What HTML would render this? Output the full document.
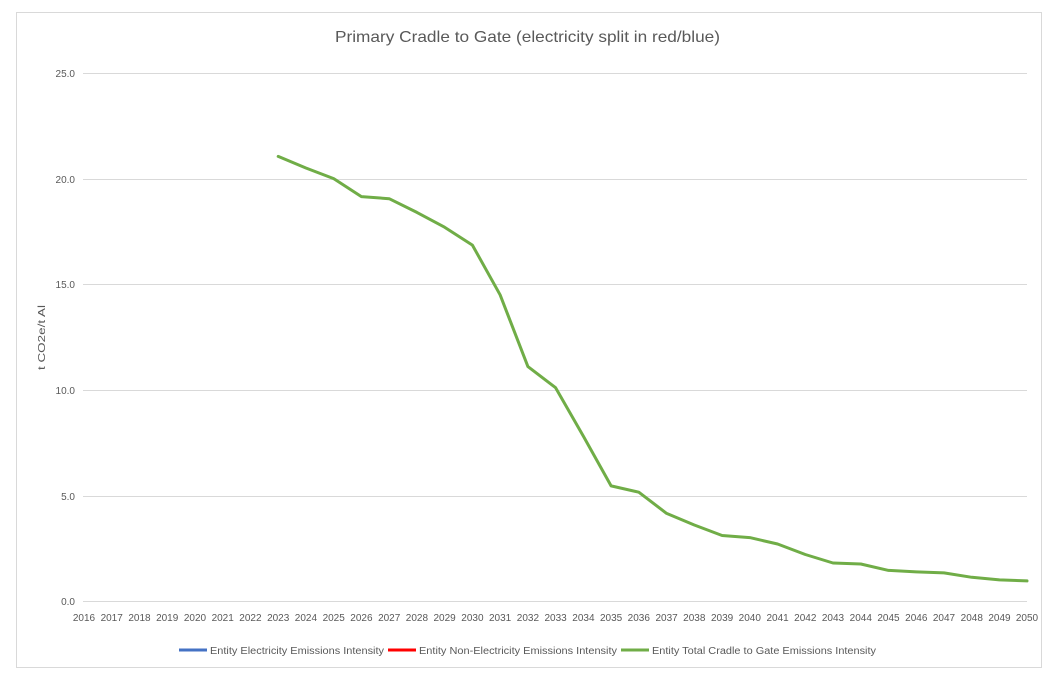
<!DOCTYPE html>
<html><head><meta charset="utf-8"><style>
html,body{margin:0;padding:0;background:#fff;}
svg{display:block;font-family:"Liberation Sans",sans-serif;}
</style></head><body>
<svg width="1057" height="684" viewBox="0 0 1057 684">
<rect x="16.5" y="12.5" width="1025" height="655" fill="#fff" stroke="#d9d9d9"/>
<text x="335" y="42" font-size="16" fill="#595959" textLength="385" lengthAdjust="spacingAndGlyphs">Primary Cradle to Gate (electricity split in red/blue)</text>
<g stroke="#d9d9d9" stroke-width="1">
<line x1="83" x2="1027" y1="73.5" y2="73.5"/>
<line x1="83" x2="1027" y1="179.5" y2="179.5"/>
<line x1="83" x2="1027" y1="284.5" y2="284.5"/>
<line x1="83" x2="1027" y1="390.5" y2="390.5"/>
<line x1="83" x2="1027" y1="496.5" y2="496.5"/>
<line x1="83" x2="1027" y1="601.5" y2="601.5"/>
</g>
<g font-size="10" fill="#595959" text-anchor="end">
<text x="75" y="77">25.0</text><text x="75" y="183">20.0</text><text x="75" y="288">15.0</text>
<text x="75" y="394">10.0</text><text x="75" y="500">5.0</text><text x="75" y="605">0.0</text>
</g>
<text transform="translate(45,370) rotate(-90)" font-size="10" fill="#595959" textLength="65" lengthAdjust="spacingAndGlyphs">t CO2e/t Al</text>
<polyline fill="none" stroke="#70ad47" stroke-width="3" stroke-linejoin="round" stroke-linecap="round" points="278.2,156.4 305.9,168 333.7,178.6 361.4,196.6 389.2,198.7 416.9,212.4 444.6,227.2 472.4,245.1 500.1,294.8 527.9,366.6 555.6,387.7 583.4,436.3 611.1,485.9 638.8,492.2 666.6,513.4 694.3,525 722.1,535.5 749.8,537.6 777.6,544 805.3,554.5 833,563 860.8,564 888.5,570.4 916.3,571.9 944,572.9 971.8,577.3 999.5,579.9 1027,580.9"/>
<g font-size="10" fill="#595959">
<line x1="179" x2="207" y1="650" y2="650" stroke="#4472c4" stroke-width="3"/>
<text x="210" y="654" textLength="174" lengthAdjust="spacingAndGlyphs">Entity Electricity Emissions Intensity</text>
<line x1="388" x2="416" y1="650" y2="650" stroke="#ff0000" stroke-width="3"/>
<text x="419" y="654" textLength="198" lengthAdjust="spacingAndGlyphs">Entity Non-Electricity Emissions Intensity</text>
<line x1="621" x2="649" y1="650" y2="650" stroke="#70ad47" stroke-width="3"/>
<text x="652" y="654" textLength="224" lengthAdjust="spacingAndGlyphs">Entity Total Cradle to Gate Emissions Intensity</text>
</g>
<g font-size="10" fill="#595959" text-anchor="middle">
<text x="84" y="621">2016</text><text x="111.7" y="621">2017</text><text x="139.5" y="621">2018</text><text x="167.2" y="621">2019</text><text x="195" y="621">2020</text><text x="222.7" y="621">2021</text><text x="250.4" y="621">2022</text><text x="278.2" y="621">2023</text><text x="305.9" y="621">2024</text><text x="333.7" y="621">2025</text><text x="361.4" y="621">2026</text><text x="389.2" y="621">2027</text><text x="416.9" y="621">2028</text><text x="444.6" y="621">2029</text><text x="472.4" y="621">2030</text><text x="500.1" y="621">2031</text><text x="527.9" y="621">2032</text><text x="555.6" y="621">2033</text><text x="583.4" y="621">2034</text><text x="611.1" y="621">2035</text><text x="638.8" y="621">2036</text><text x="666.6" y="621">2037</text><text x="694.3" y="621">2038</text><text x="722.1" y="621">2039</text><text x="749.8" y="621">2040</text><text x="777.6" y="621">2041</text><text x="805.3" y="621">2042</text><text x="833" y="621">2043</text><text x="860.8" y="621">2044</text><text x="888.5" y="621">2045</text><text x="916.3" y="621">2046</text><text x="944" y="621">2047</text><text x="971.8" y="621">2048</text><text x="999.5" y="621">2049</text><text x="1027" y="621">2050</text>
</g>
</svg>
</body></html>
